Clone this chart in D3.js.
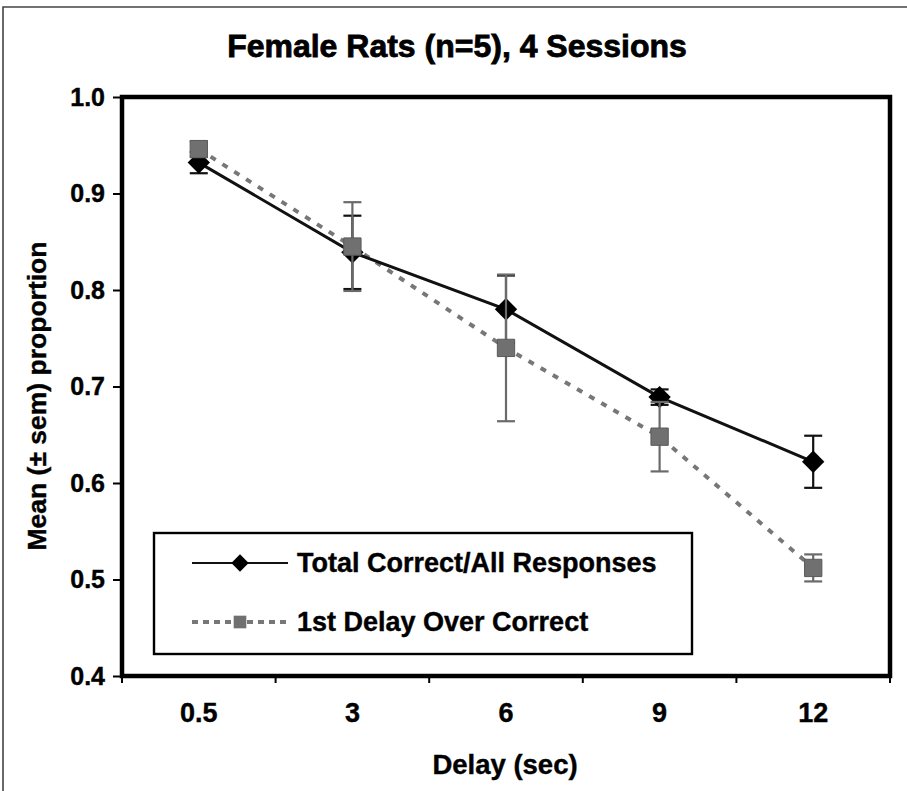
<!DOCTYPE html>
<html>
<head>
<meta charset="utf-8">
<script src="https://cdn.jsdelivr.net/npm/d3@7"></script>
<style>
  body { margin: 0; background: #fff; }
  svg { display: block; font-family: "Liberation Sans", Arial, sans-serif; font-weight: bold; }
</style>
</head>
<body>
<div class="chart-container"></div>
<script>
// data
const delays = ["0.5", "3", "6", "9", "12"];
const totalMean = [0.932, 0.839, 0.780, 0.689, 0.622];
const totalSem = [0.011, 0.038, 0.035, 0.008, 0.027];
const firstMean = [0.946, 0.845, 0.740, 0.648, 0.512];
const firstSem = [0.008, 0.046, 0.076, 0.036, 0.014];
const yTicks = [0.4, 0.5, 0.6, 0.7, 0.8, 0.9, 1.0];

const seriesNames = ["Total Correct/All Responses", "1st Delay Over Correct"];

function draw() {
    const width = 907;
    const height = 791;
    const margin = { top: 97, right: 17, bottom: 115, left: 122 };

    const svg = d3.select('.chart-container').append("svg")
        .attr("width", width)
        .attr("height", height);

    // outer frame (only top and left edges visible)
    svg.append("path")
        .attr("d", `M3,${height} L3,7 L${width},7`)
        .attr("fill", "none")
        .attr("stroke", "#444")
        .attr("stroke-width", 1.6);

    const x = d3.scaleBand()
        .domain(delays)
        .range([margin.left, width - margin.right]);

    const y = d3.scaleLinear()
        .domain([0.4, 1.0])
        .range([height - margin.bottom, margin.top]);

    // title
    svg.append("text")
        .attr("x", 457)
        .attr("y", 46)
        .attr("text-anchor", "middle")
        .attr("dominant-baseline", "central")
        .attr("font-size", 32)
        .attr("stroke", "#000")
        .attr("stroke-width", 0.8)
        .text("Female Rats (n=5), 4 Sessions");

    // y axis
    const yAxis = svg.append("g")
        .attr("transform", `translate(${margin.left},0)`)
        .call(d3.axisLeft(y).tickValues(yTicks).tickFormat(d3.format(".1f")).tickSize(9).tickPadding(8));
    yAxis.select(".domain").remove();
    yAxis.selectAll(".tick line").attr("stroke", "#000").attr("stroke-width", 2);
    yAxis.selectAll(".tick text")
        .attr("font-size", 25)
        .attr("font-family", "Liberation Sans, Arial, sans-serif")
        .attr("font-weight", "bold")
        .attr("fill", "#000")
        .attr("stroke", "#000")
        .attr("stroke-width", 0.4);

    // x axis: labels at band centres, ticks at band edges
    const xAxis = svg.append("g")
        .attr("transform", `translate(0,${height - margin.bottom})`)
        .call(d3.axisBottom(x).tickSize(0).tickPadding(27));
    xAxis.select(".domain").remove();
    xAxis.selectAll(".tick text")
        .attr("font-size", 27)
        .attr("font-family", "Liberation Sans, Arial, sans-serif")
        .attr("font-weight", "bold")
        .attr("fill", "#000")
        .attr("stroke", "#000")
        .attr("stroke-width", 0.4);

    const edges = delays.map(d => x(d)).concat([x(delays[delays.length - 1]) + x.bandwidth()]);
    svg.append("g").selectAll("line")
        .data(edges)
        .join("line")
        .attr("x1", d => d).attr("x2", d => d)
        .attr("y1", height - margin.bottom)
        .attr("y2", height - margin.bottom + 7)
        .attr("stroke", "#000")
        .attr("stroke-width", 2);

    // axis titles
    svg.append("text")
        .attr("x", 505)
        .attr("y", 764)
        .attr("text-anchor", "middle")
        .attr("dominant-baseline", "central")
        .attr("font-size", 27.5)
        .attr("stroke", "#000")
        .attr("stroke-width", 0.4)
        .text("Delay (sec)");

    svg.append("text")
        .attr("transform", "translate(37,396) rotate(-90)")
        .attr("text-anchor", "middle")
        .attr("dominant-baseline", "central")
        .attr("font-size", 26.5)
        .attr("stroke", "#000")
        .attr("stroke-width", 0.4)
        .text("Mean (\u00b1 sem) proportion");

    const cx = d => x(d) + x.bandwidth() / 2;

    const total = delays.map((d, i) => ({ d: d, m: totalMean[i], s: totalSem[i] }));
    const first = delays.map((d, i) => ({ d: d, m: firstMean[i], s: firstSem[i] }));

    const line = d3.line().x(p => cx(p.d)).y(p => y(p.m));

    // dotted grey line
    svg.append("path")
        .datum(first)
        .attr("d", line)
        .attr("fill", "none")
        .attr("stroke", "#777")
        .attr("stroke-width", 4)
        .attr("stroke-dasharray", "6,8");

    // solid black line
    svg.append("path")
        .datum(total)
        .attr("d", line)
        .attr("fill", "none")
        .attr("stroke", "#111")
        .attr("stroke-width", 3);

    function errorBars(data, color) {
        const g = svg.append("g").attr("stroke", color).attr("stroke-width", 2.2);
        g.selectAll(".v").data(data).join("line")
            .attr("x1", p => cx(p.d)).attr("x2", p => cx(p.d))
            .attr("y1", p => y(p.m - p.s)).attr("y2", p => y(p.m + p.s));
        g.selectAll(".top").data(data).join("line")
            .attr("x1", p => cx(p.d) - 9).attr("x2", p => cx(p.d) + 9)
            .attr("y1", p => y(p.m + p.s)).attr("y2", p => y(p.m + p.s));
        g.selectAll(".bot").data(data).join("line")
            .attr("x1", p => cx(p.d) - 9).attr("x2", p => cx(p.d) + 9)
            .attr("y1", p => y(p.m - p.s)).attr("y2", p => y(p.m - p.s));
    }

    const diamond = d3.symbol().type(d3.symbolSquare).size(250);
    const square = d3.symbol().type(d3.symbolSquare).size(300);

    errorBars(total, "#111");
    svg.append("g").selectAll("path")
        .data(total)
        .join("path")
        .attr("d", diamond)
        .attr("transform", p => `translate(${cx(p.d)},${y(p.m)}) rotate(45)`)
        .attr("fill", "#000");

    errorBars(first, "#6a6a6a");
    svg.append("g").selectAll("path")
        .data(first)
        .join("path")
        .attr("d", square)
        .attr("transform", p => `translate(${cx(p.d)},${y(p.m)})`)
        .attr("fill", "#707070")
        .attr("stroke", "#5a5a5a")
        .attr("stroke-width", 1);

    // legend
    const legend = svg.append("g").attr("transform", "translate(154,533)");
    legend.append("rect")
        .attr("width", 538)
        .attr("height", 121)
        .attr("fill", "#fff")
        .attr("stroke", "#000")
        .attr("stroke-width", 2.4);

    const items = legend.selectAll(".item")
        .data(seriesNames)
        .join("g")
        .attr("transform", (d, i) => `translate(0,${30 + i * 59})`);

    items.append("line")
        .attr("x1", 38).attr("x2", 134)
        .attr("stroke", (d, i) => i === 0 ? "#111" : "#777")
        .attr("stroke-width", (d, i) => i === 0 ? 2 : 4)
        .attr("stroke-dasharray", (d, i) => i === 0 ? null : "6,5");

    items.append("path")
        .attr("d", (d, i) => d3.symbol().type(d3.symbolSquare).size(i === 0 ? 150 : 160)())
        .attr("transform", (d, i) => i === 0 ? "translate(86,0) rotate(45)" : "translate(86,0)")
        .attr("fill", (d, i) => i === 0 ? "#000" : "#707070");

    items.append("text")
        .attr("x", 143)
        .attr("dominant-baseline", "central")
        .attr("font-size", 27)
        .attr("stroke", "#000")
        .attr("stroke-width", 0.4)
        .text(d => d);

    // plot frame
    svg.append("rect")
        .attr("x", margin.left)
        .attr("y", margin.top)
        .attr("width", width - margin.left - margin.right)
        .attr("height", height - margin.top - margin.bottom)
        .attr("fill", "none")
        .attr("stroke", "#000")
        .attr("stroke-width", 4.5);
}

draw();
</script>
</body>
</html>
